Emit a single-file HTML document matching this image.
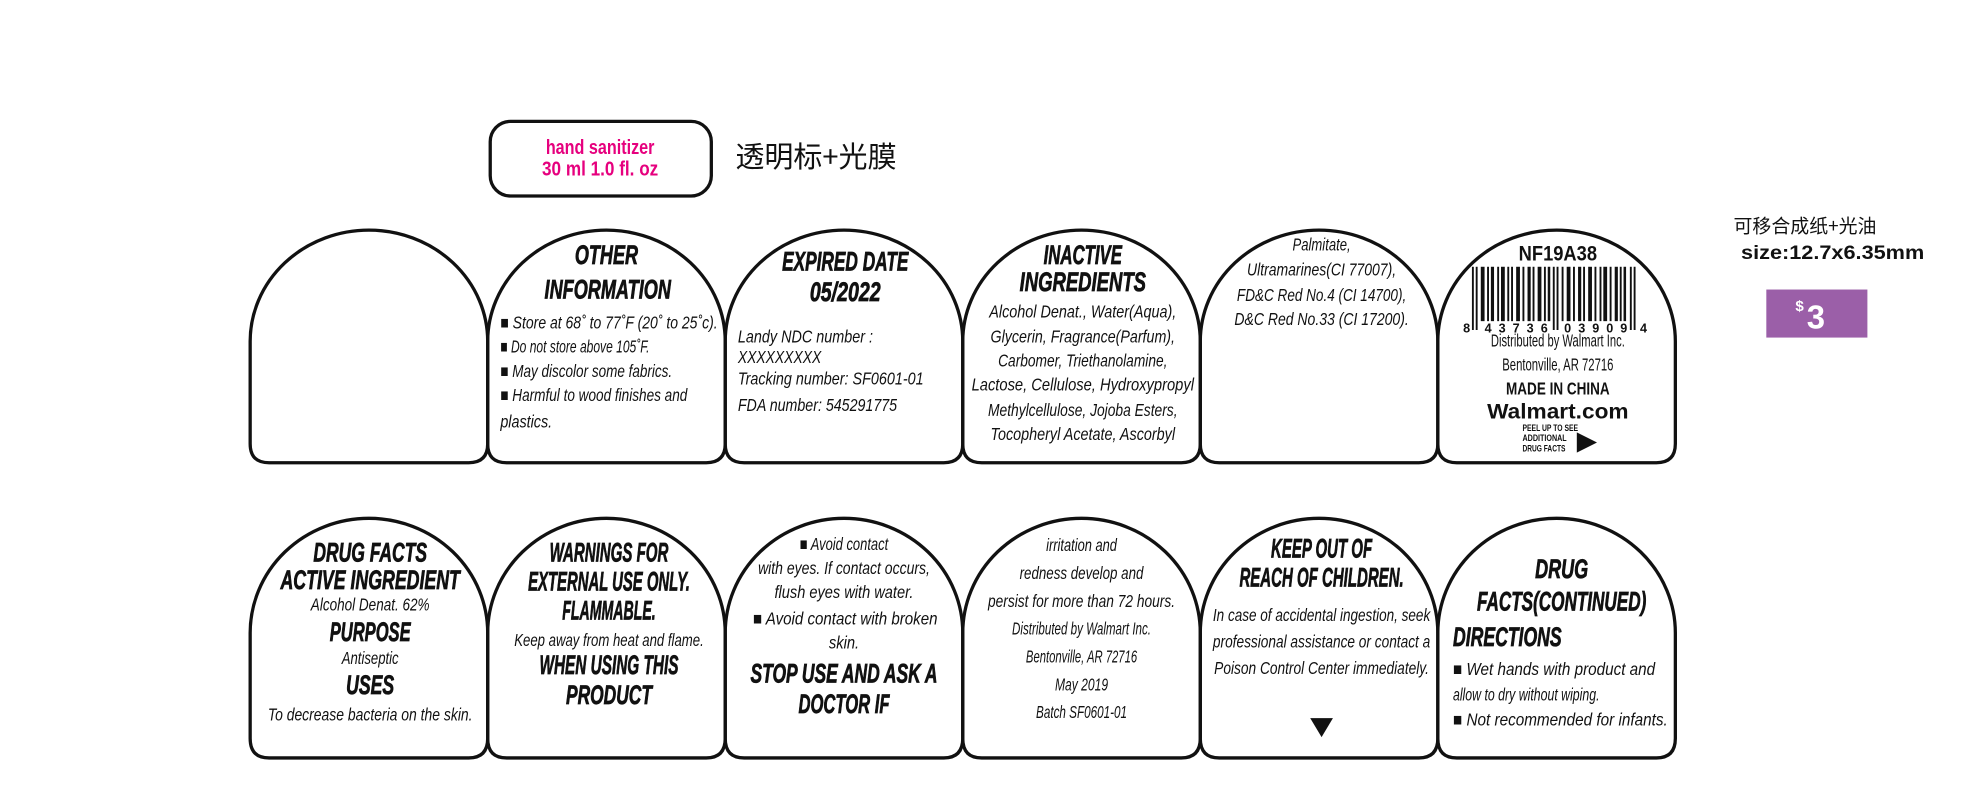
<!DOCTYPE html>
<html><head><meta charset="utf-8">
<style>
html,body{margin:0;padding:0;background:#fff;}
svg{display:block;}
text{font-family:"Liberation Sans Narrow","Liberation Sans","Noto Sans CJK SC",sans-serif;fill:#111;}
.h{font-weight:bold;font-style:italic;font-size:21px;stroke:#111;stroke-width:0.6;}
.t{font-style:italic;font-size:14px;}
.c{text-anchor:middle;}
.cj{font-family:"Noto Sans CJK SC","WenQuanYi Zen Hei",sans-serif;}
</style></head><body>
<svg width="1971" height="794" viewBox="0 0 1560 628" preserveAspectRatio="none" xmlns="http://www.w3.org/2000/svg">
<defs>
<path id="p" d="M0,270 A94,88 0 0 1 188,270 L188,351 Q188,366 173,366 L15,366 Q0,366 0,351 Z" transform="translate(0,-182)"/>
</defs>
<g fill="none" stroke="#111" stroke-width="2.6">
<rect x="388" y="96" width="175" height="59" rx="16"/>
<use href="#p" x="198" y="182"/><use href="#p" x="386" y="182"/><use href="#p" x="574" y="182"/>
<use href="#p" x="762" y="182"/><use href="#p" x="950" y="182"/><use href="#p" x="1138" y="182"/>
<g transform="translate(0,222.5) scale(1,1.03)">
<use href="#p" x="198" y="182"/><use href="#p" x="386" y="182"/><use href="#p" x="574" y="182"/>
<use href="#p" x="762" y="182"/><use href="#p" x="950" y="182"/><use href="#p" x="1138" y="182"/>
</g>
</g>

<text x="475" y="122" class="c" style="font-weight:bold;font-size:16px;fill:#e6007e" textLength="86" lengthAdjust="spacingAndGlyphs">hand sanitizer</text>
<text x="475" y="139" class="c" style="font-weight:bold;font-size:16px;fill:#e6007e" textLength="92" lengthAdjust="spacingAndGlyphs">30 ml 1.0 fl. oz</text>
<text x="582" y="132" class="cj" style="font-size:23px">透明标+光膜</text>

<text x="1372" y="184" class="cj" style="font-size:15px">可移合成纸+光油</text>
<text x="1378" y="205" style="font-family:'Liberation Sans',sans-serif;font-size:15px;font-weight:bold" textLength="145" lengthAdjust="spacingAndGlyphs">size:12.7x6.35mm</text>
<rect x="1398" y="229" width="80" height="38" fill="#9b5fa8"/>
<text x="1430" y="260" style="font-family:'Liberation Sans',sans-serif;font-weight:bold;font-size:26px;fill:#fff">3</text>
<text x="1421" y="246" style="font-family:'Liberation Sans',sans-serif;font-weight:bold;font-size:12px;fill:#fff">$</text>

<!-- top panel 2 -->
<text x="480" y="209" class="h c" textLength="50" lengthAdjust="spacingAndGlyphs">OTHER</text>
<text x="481" y="236" class="h c" textLength="100" lengthAdjust="spacingAndGlyphs">INFORMATION</text>
<text x="396" y="260" class="t" textLength="172" lengthAdjust="spacingAndGlyphs">■ Store at 68˚ to 77˚F (20˚ to 25˚c).</text>
<text x="396" y="279" class="t" textLength="118" lengthAdjust="spacingAndGlyphs">■ Do not store above 105˚F.</text>
<text x="396" y="298" class="t" textLength="136" lengthAdjust="spacingAndGlyphs">■ May discolor some fabrics.</text>
<text x="396" y="317" class="t" textLength="148" lengthAdjust="spacingAndGlyphs">■ Harmful to wood finishes and</text>
<text x="396" y="338" class="t" textLength="41" lengthAdjust="spacingAndGlyphs">plastics.</text>
<!-- top panel 3 -->
<text x="669" y="214" class="h c" textLength="100" lengthAdjust="spacingAndGlyphs">EXPIRED DATE</text>
<text x="669" y="238" class="h c" textLength="56" lengthAdjust="spacingAndGlyphs">05/2022</text>
<text x="584" y="271" class="t" textLength="107" lengthAdjust="spacingAndGlyphs">Landy NDC number :</text>
<text x="584" y="287" class="t" textLength="66" lengthAdjust="spacingAndGlyphs">XXXXXXXXX</text>
<text x="584" y="304" class="t" textLength="147" lengthAdjust="spacingAndGlyphs">Tracking number: SF0601-01</text>
<text x="584" y="325" class="t" textLength="126" lengthAdjust="spacingAndGlyphs">FDA number: 545291775</text>
<!-- top panel 4 -->
<text x="857" y="209" class="h c" textLength="62" lengthAdjust="spacingAndGlyphs">INACTIVE</text>
<text x="857" y="230" class="h c" textLength="100" lengthAdjust="spacingAndGlyphs">INGREDIENTS</text>
<text x="857" y="251" class="t c" textLength="148" lengthAdjust="spacingAndGlyphs">Alcohol Denat., Water(Aqua),</text>
<text x="857" y="271" class="t c" textLength="146" lengthAdjust="spacingAndGlyphs">Glycerin, Fragrance(Parfum),</text>
<text x="857" y="290" class="t c" textLength="134" lengthAdjust="spacingAndGlyphs">Carbomer, Triethanolamine,</text>
<text x="857" y="309" class="t c" textLength="176" lengthAdjust="spacingAndGlyphs">Lactose, Cellulose, Hydroxypropyl</text>
<text x="857" y="329" class="t c" textLength="150" lengthAdjust="spacingAndGlyphs">Methylcellulose, Jojoba Esters,</text>
<text x="857" y="348" class="t c" textLength="146" lengthAdjust="spacingAndGlyphs">Tocopheryl Acetate, Ascorbyl</text>
<!-- top panel 5 -->
<text x="1046" y="198" class="t c" textLength="46" lengthAdjust="spacingAndGlyphs">Palmitate,</text>
<text x="1046" y="218" class="t c" textLength="118" lengthAdjust="spacingAndGlyphs">Ultramarines(CI 77007),</text>
<text x="1046" y="238" class="t c" textLength="134" lengthAdjust="spacingAndGlyphs">FD&amp;C Red No.4 (CI 14700),</text>
<text x="1046" y="257" class="t c" textLength="138" lengthAdjust="spacingAndGlyphs">D&amp;C Red No.33 (CI 17200).</text>
<!-- top panel 6 -->
<text x="1233" y="206" class="c" style="font-family:'Liberation Sans',sans-serif;font-weight:bold;font-size:17px" textLength="62" lengthAdjust="spacingAndGlyphs">NF19A38</text>
<g fill="#111">
<rect x="1165" y="211" width="1.5" height="50"/><rect x="1168" y="211" width="1.5" height="50"/>
<rect x="1172" y="211" width="3" height="43"/><rect x="1177" y="211" width="1.5" height="43"/><rect x="1180" y="211" width="2.5" height="43"/>
<rect x="1185" y="211" width="1.5" height="43"/><rect x="1188" y="211" width="3" height="43"/><rect x="1193" y="211" width="1.5" height="43"/>
<rect x="1196" y="211" width="1.5" height="43"/><rect x="1200" y="211" width="3" height="43"/><rect x="1205" y="211" width="1.5" height="43"/>
<rect x="1209" y="211" width="2.5" height="43"/><rect x="1213" y="211" width="1.5" height="43"/><rect x="1217" y="211" width="3" height="43"/>
<rect x="1222" y="211" width="1.5" height="43"/><rect x="1225" y="211" width="2" height="43"/>
<rect x="1229" y="211" width="1.5" height="50"/><rect x="1232" y="211" width="1.5" height="50"/>
<rect x="1236" y="211" width="1.5" height="43"/><rect x="1240" y="211" width="3" height="43"/><rect x="1245" y="211" width="1.5" height="43"/>
<rect x="1249" y="211" width="2.5" height="43"/><rect x="1253" y="211" width="1.5" height="43"/><rect x="1257" y="211" width="3" height="43"/>
<rect x="1262" y="211" width="1.5" height="43"/><rect x="1266" y="211" width="1.5" height="43"/><rect x="1269" y="211" width="3" height="43"/>
<rect x="1274" y="211" width="1.5" height="43"/><rect x="1278" y="211" width="2.5" height="43"/><rect x="1282" y="211" width="1.5" height="43"/>
<rect x="1285" y="211" width="2" height="43"/>
<rect x="1290" y="211" width="1.5" height="50"/><rect x="1293" y="211" width="1.5" height="50"/>
</g>
<g style="font-family:'Liberation Sans',sans-serif;font-size:10px;font-weight:bold">
<text x="1158" y="263">8</text>
<text x="1175" y="263" textLength="50" lengthAdjust="spacing">43736</text>
<text x="1238" y="263" textLength="50" lengthAdjust="spacing">03909</text>
<text x="1298" y="263">4</text>
</g>
<text x="1233" y="274" class="c" style="font-size:14px" textLength="106" lengthAdjust="spacingAndGlyphs">Distributed by Walmart Inc.</text>
<text x="1233" y="293" class="c" style="font-size:14px" textLength="88" lengthAdjust="spacingAndGlyphs">Bentonville, AR 72716</text>
<text x="1233" y="312" class="c" style="font-size:14px;font-weight:bold" textLength="82" lengthAdjust="spacingAndGlyphs">MADE IN CHINA</text>
<text x="1233" y="331" class="c" style="font-family:'Liberation Sans',sans-serif;font-size:17px;font-weight:bold" textLength="112" lengthAdjust="spacingAndGlyphs">Walmart.com</text>
<g style="font-size:7px;font-weight:bold">
<text x="1205" y="341" textLength="44" lengthAdjust="spacingAndGlyphs">PEEL UP TO SEE</text>
<text x="1205" y="349" textLength="35" lengthAdjust="spacingAndGlyphs">ADDITIONAL</text>
<text x="1205" y="357" textLength="34" lengthAdjust="spacingAndGlyphs">DRUG FACTS</text>
</g>
<polygon points="1248,342 1264,350 1248,358" fill="#111"/>

<!-- bottom panel 1 -->
<text x="293" y="444" class="h c" textLength="90" lengthAdjust="spacingAndGlyphs">DRUG FACTS</text>
<text x="293" y="466" class="h c" textLength="142" lengthAdjust="spacingAndGlyphs">ACTIVE INGREDIENT</text>
<text x="293" y="483" class="t c" textLength="94" lengthAdjust="spacingAndGlyphs">Alcohol Denat. 62%</text>
<text x="293" y="507" class="h c" textLength="64" lengthAdjust="spacingAndGlyphs">PURPOSE</text>
<text x="293" y="525" class="t c" textLength="45" lengthAdjust="spacingAndGlyphs">Antiseptic</text>
<text x="293" y="549" class="h c" textLength="38" lengthAdjust="spacingAndGlyphs">USES</text>
<text x="293" y="570" class="t c" textLength="162" lengthAdjust="spacingAndGlyphs">To decrease bacteria on the skin.</text>
<!-- bottom panel 2 -->
<text x="482" y="444" class="h c" textLength="94" lengthAdjust="spacingAndGlyphs">WARNINGS FOR</text>
<text x="482" y="467" class="h c" textLength="128" lengthAdjust="spacingAndGlyphs">EXTERNAL USE ONLY.</text>
<text x="482" y="490" class="h c" textLength="74" lengthAdjust="spacingAndGlyphs">FLAMMABLE.</text>
<text x="482" y="511" class="t c" textLength="150" lengthAdjust="spacingAndGlyphs">Keep away from heat and flame.</text>
<text x="482" y="533" class="h c" textLength="110" lengthAdjust="spacingAndGlyphs">WHEN USING THIS</text>
<text x="482" y="557" class="h c" textLength="68" lengthAdjust="spacingAndGlyphs">PRODUCT</text>
<!-- bottom panel 3 -->
<text x="668" y="435" class="t c" textLength="70" lengthAdjust="spacingAndGlyphs">■ Avoid contact</text>
<text x="668" y="454" class="t c" textLength="136" lengthAdjust="spacingAndGlyphs">with eyes. If contact occurs,</text>
<text x="668" y="473" class="t c" textLength="110" lengthAdjust="spacingAndGlyphs">flush eyes with water.</text>
<text x="669" y="494" class="t c" textLength="146" lengthAdjust="spacingAndGlyphs">■ Avoid contact with broken</text>
<text x="668" y="513" class="t c" textLength="24" lengthAdjust="spacingAndGlyphs">skin.</text>
<text x="668" y="540" class="h c" textLength="148" lengthAdjust="spacingAndGlyphs">STOP USE AND ASK A</text>
<text x="668" y="564" class="h c" textLength="72" lengthAdjust="spacingAndGlyphs">DOCTOR IF</text>
<!-- bottom panel 4 -->
<text x="856" y="436" class="t c" textLength="56" lengthAdjust="spacingAndGlyphs">irritation and</text>
<text x="856" y="458" class="t c" textLength="98" lengthAdjust="spacingAndGlyphs">redness develop and</text>
<text x="856" y="480" class="t c" textLength="148" lengthAdjust="spacingAndGlyphs">persist  for more than 72 hours.</text>
<text x="856" y="502" class="t c" textLength="110" lengthAdjust="spacingAndGlyphs">Distributed by Walmart Inc.</text>
<text x="856" y="524" class="t c" textLength="88" lengthAdjust="spacingAndGlyphs">Bentonville, AR 72716</text>
<text x="856" y="546" class="t c" textLength="42" lengthAdjust="spacingAndGlyphs">May 2019</text>
<text x="856" y="568" class="t c" textLength="72" lengthAdjust="spacingAndGlyphs">Batch SF0601-01</text>
<!-- bottom panel 5 -->
<text x="1046" y="441" class="h c" textLength="80" lengthAdjust="spacingAndGlyphs">KEEP OUT OF</text>
<text x="1046" y="464" class="h c" textLength="130" lengthAdjust="spacingAndGlyphs">REACH OF CHILDREN.</text>
<text x="1046" y="491" class="t c" textLength="172" lengthAdjust="spacingAndGlyphs">In case of accidental ingestion, seek</text>
<text x="1046" y="512" class="t c" textLength="172" lengthAdjust="spacingAndGlyphs">professional assistance or contact a</text>
<text x="1046" y="533" class="t c" textLength="170" lengthAdjust="spacingAndGlyphs">Poison Control Center immediately.</text>
<polygon points="1037,568 1055,568 1046,583" fill="#111"/>
<!-- bottom panel 6 -->
<text x="1236" y="457" class="h c" textLength="42" lengthAdjust="spacingAndGlyphs">DRUG</text>
<text x="1236" y="483" class="h c" textLength="134" lengthAdjust="spacingAndGlyphs">FACTS(CONTINUED)</text>
<text x="1150" y="511" class="h" textLength="86" lengthAdjust="spacingAndGlyphs">DIRECTIONS</text>
<text x="1150" y="534" class="t" textLength="160" lengthAdjust="spacingAndGlyphs">■ Wet hands with product and</text>
<text x="1150" y="554" class="t" textLength="116" lengthAdjust="spacingAndGlyphs">allow to dry without wiping.</text>
<text x="1150" y="574" class="t" textLength="170" lengthAdjust="spacingAndGlyphs">■  Not recommended for infants.</text>
</svg>
</body></html>
